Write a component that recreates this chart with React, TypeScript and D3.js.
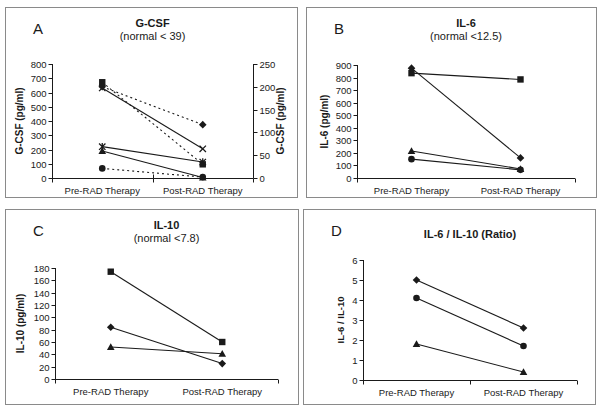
import * as d3 from "d3";
import { useEffect, useRef } from "react";

// categories
const phases = ["Pre-RAD Therapy", "Post-RAD Therapy"];

// A: G-CSF, solid lines on left axis, dotted on right axis
const gcsfX = [632, 205];
const gcsfStar = [220, 112];
const gcsfTriangle = [190, 3];
const gcsfSquareR = [210, 30];
const gcsfDiamondR = [200, 117];
const gcsfCircleR = [21, 2];
const gcsfTicks = [0, 100, 200, 300, 400, 500, 600, 700, 800];
const gcsfTicksR = [0, 50, 100, 150, 200, 250];

// B: IL-6
const il6Square = [835, 785];
const il6Diamond = [875, 160];
const il6Triangle = [215, 72];
const il6Circle = [150, 65];
const il6Ticks = [0, 100, 200, 300, 400, 500, 600, 700, 800, 900];

// C: IL-10
const il10Square = [174, 60];
const il10Diamond = [84, 25];
const il10Triangle = [52, 41];
const il10Ticks = [0, 20, 40, 60, 80, 100, 120, 140, 160, 180];

// D: ratio
const ratioDiamond = [5.0, 2.6];
const ratioCircle = [4.1, 1.7];
const ratioTriangle = [1.8, 0.4];
const ratioTicks = [0, 1, 2, 3, 4, 5, 6];

const FONT = "'Liberation Sans', Arial, sans-serif";
const INK = "#1a1a1a";

const panels = [
	{
		letter: "A", title: "G-CSF", sub: "(normal < 39)",
		box: [5, 7, 297, 197], x: [52, 253], y: [178, 64],
		ylabel: "G-CSF (pg/ml)", ylabelX: 23, ylabelSize: 10, ticks: gcsfTicks, max: 800,
		right: { ticks: gcsfTicksR, max: 250, label: "G-CSF (pg/ml)", labelX: 284 },
		midTick: "cross",
		series: [
			{ v: gcsfX, m: "x" },
			{ v: gcsfStar, m: "star" },
			{ v: gcsfTriangle, m: "triangle" },
			{ v: gcsfSquareR, m: "square", right: true, dash: true },
			{ v: gcsfDiamondR, m: "diamond", right: true, dash: true },
			{ v: gcsfCircleR, m: "circle", right: true, dash: true },
		],
	},
	{
		letter: "B", title: "IL-6", sub: "(normal <12.5)",
		box: [306, 7, 596, 197], x: [357, 575], y: [178, 65],
		ylabel: "IL-6 (pg/ml)", ylabelX: 328, ylabelSize: 10, ticks: il6Ticks, max: 900,
		midTick: "none",
		series: [
			{ v: il6Square, m: "square" },
			{ v: il6Diamond, m: "diamond" },
			{ v: il6Triangle, m: "triangle" },
			{ v: il6Circle, m: "circle" },
		],
	},
	{
		letter: "C", title: "IL-10", sub: "(normal <7.8)",
		box: [5, 209, 298, 404], x: [55, 278], y: [379, 268],
		ylabel: "IL-10 (pg/ml)", ylabelX: 24, ylabelSize: 10, ticks: il10Ticks, max: 180,
		midTick: "none",
		series: [
			{ v: il10Square, m: "square" },
			{ v: il10Diamond, m: "diamond" },
			{ v: il10Triangle, m: "triangle" },
		],
	},
	{
		letter: "D", title: "IL-6 / IL-10 (Ratio)", sub: null,
		box: [303, 209, 595, 404], x: [363, 577], y: [380, 260],
		ylabel: "IL-6 / IL-10", ylabelX: 344, ylabelSize: 9.5, ticks: ratioTicks, max: 6,
		midTick: "down",
		series: [
			{ v: ratioDiamond, m: "diamond" },
			{ v: ratioCircle, m: "circle" },
			{ v: ratioTriangle, m: "triangle" },
		],
	},
];

function drawMarker(g, kind, cx, cy) {
	const s = 3.2;
	if (kind === "square") {
		g.append("rect").attr("x", cx - s).attr("y", cy - s).attr("width", 2 * s).attr("height", 2 * s).attr("fill", INK);
	} else if (kind === "diamond") {
		g.append("path").attr("d", `M${cx},${cy - 3.8}L${cx + 3.8},${cy}L${cx},${cy + 3.8}L${cx - 3.8},${cy}Z`).attr("fill", INK);
	} else if (kind === "triangle") {
		g.append("path").attr("d", `M${cx},${cy - 3.8}L${cx + 3.8},${cy + 3}L${cx - 3.8},${cy + 3}Z`).attr("fill", INK);
	} else if (kind === "circle") {
		g.append("circle").attr("cx", cx).attr("cy", cy).attr("r", 3.3).attr("fill", INK);
	} else if (kind === "x" || kind === "star") {
		g.append("path")
			.attr("d", `M${cx - s},${cy - s}L${cx + s},${cy + s}M${cx - s},${cy + s}L${cx + s},${cy - s}` +
				(kind === "star" ? `M${cx},${cy - s - 0.5}L${cx},${cy + s + 0.5}` : ""))
			.attr("stroke", INK).attr("stroke-width", 1.3).attr("fill", "none");
	}
}

export default function App() {
	const ref = useRef(null);

	useEffect(() => {
		const svg = d3.select(ref.current);
		svg.selectAll("*").remove();

		panels.forEach((p) => {
			const g = svg.append("g");
			const [bx0, by0, bx1, by1] = p.box;
			g.append("rect").attr("x", bx0 + 0.5).attr("y", by0 + 0.5)
				.attr("width", bx1 - bx0).attr("height", by1 - by0)
				.attr("fill", "#fff").attr("stroke", "#8a8a8a").attr("stroke-width", 1);

			const x = d3.scaleBand().domain(phases).range(p.x);
			const y = d3.scaleLinear().domain([0, p.max]).range(p.y);
			const yR = p.right ? d3.scaleLinear().domain([0, p.right.max]).range(p.y) : null;
			const cx = (d) => x(d) + x.bandwidth() / 2;

			// left axis
			const base = y(0) + 0.5;
			const axL = Math.round(p.x[0]) + 0.5;
			g.append("line").attr("x1", axL).attr("x2", axL).attr("y1", p.y[1]).attr("y2", base).attr("stroke", INK);
			p.ticks.forEach((t) => {
				const ty = Math.round(y(t)) + 0.5;
				g.append("line").attr("x1", axL - 4).attr("x2", axL).attr("y1", ty).attr("y2", ty).attr("stroke", INK);
				g.append("text").attr("x", axL - 6).attr("y", ty).attr("dy", "0.35em")
					.attr("text-anchor", "end").attr("font-size", 9.5).attr("font-family", FONT).attr("fill", INK).text(t);
			});
			// right axis
			if (p.right) {
				const axR = Math.round(p.x[1]) + 0.5;
				g.append("line").attr("x1", axR).attr("x2", axR).attr("y1", p.y[1]).attr("y2", base).attr("stroke", INK);
				p.right.ticks.forEach((t) => {
					const ty = Math.round(yR(t)) + 0.5;
					g.append("line").attr("x1", axR).attr("x2", axR + 4).attr("y1", ty).attr("y2", ty).attr("stroke", INK);
					g.append("text").attr("x", axR + 6).attr("y", ty).attr("dy", "0.35em")
						.attr("text-anchor", "start").attr("font-size", 9.5).attr("font-family", FONT).attr("fill", INK).text(t);
				});
				g.append("text")
					.attr("transform", `translate(${p.right.labelX},${(p.y[0] + p.y[1]) / 2}) rotate(-90)`)
					.attr("text-anchor", "middle").attr("font-size", p.ylabelSize).attr("font-weight", "bold")
					.attr("font-family", FONT).attr("fill", INK).text(p.right.label);
			}
			// x axis
			g.append("line").attr("x1", p.x[0]).attr("x2", p.x[1]).attr("y1", base).attr("y2", base).attr("stroke", INK);
			[p.x[0], p.x[1]].forEach((ex) => {
				const tx = Math.round(ex) + 0.5;
				g.append("line").attr("x1", tx).attr("x2", tx).attr("y1", base).attr("y2", base + 4).attr("stroke", INK);
			});
			if (p.midTick !== "none") {
				const tx = Math.round(x(phases[1])) + 0.5;
				g.append("line").attr("x1", tx).attr("x2", tx)
					.attr("y1", p.midTick === "cross" ? base - 4 : base).attr("y2", base + 4).attr("stroke", INK);
			}
			phases.forEach((c) => {
				g.append("text").attr("x", cx(c)).attr("y", base + 15)
					.attr("text-anchor", "middle").attr("font-size", 9.5).attr("font-family", FONT).attr("fill", INK).text(c);
			});

			// y label
			g.append("text")
				.attr("transform", `translate(${p.ylabelX},${(p.y[0] + p.y[1]) / 2}) rotate(-90)`)
				.attr("text-anchor", "middle").attr("font-size", p.ylabelSize).attr("font-weight", "bold")
				.attr("font-family", FONT).attr("fill", INK).text(p.ylabel);

			// titles
			const midX = (p.x[0] + p.x[1]) / 2;
			g.append("text").attr("x", midX).attr("y", by0 + (p.sub ? 20 : 29))
				.attr("text-anchor", "middle").attr("font-size", 11).attr("font-weight", "bold")
				.attr("font-family", FONT).attr("fill", INK).text(p.title);
			if (p.sub) {
				g.append("text").attr("x", midX).attr("y", by0 + 33)
					.attr("text-anchor", "middle").attr("font-size", 11)
					.attr("font-family", FONT).attr("fill", INK).text(p.sub);
			}
			g.append("text").attr("x", bx0 + 28).attr("y", by0 + 27)
				.attr("font-size", 15).attr("font-family", FONT).attr("fill", INK).text(p.letter);

			// series
			const line = (sc) => d3.line().x((d, i) => cx(phases[i])).y((d) => sc(d));
			p.series.forEach((s) => {
				const sc = s.right ? yR : y;
				g.append("path").datum(s.v).attr("d", line(sc)).attr("fill", "none")
					.attr("stroke", INK).attr("stroke-width", 1.1)
					.attr("stroke-dasharray", s.dash ? "2,3" : null);
			});
			p.series.forEach((s) => {
				const sc = s.right ? yR : y;
				s.v.forEach((v, i) => drawMarker(g, s.m, cx(phases[i]), sc(v)));
			});
		});
	}, []);

	return (
		<svg ref={ref} width={602} height={412} style={{ position: "absolute", left: 0, top: 0, background: "#fff" }} />
	);
}
